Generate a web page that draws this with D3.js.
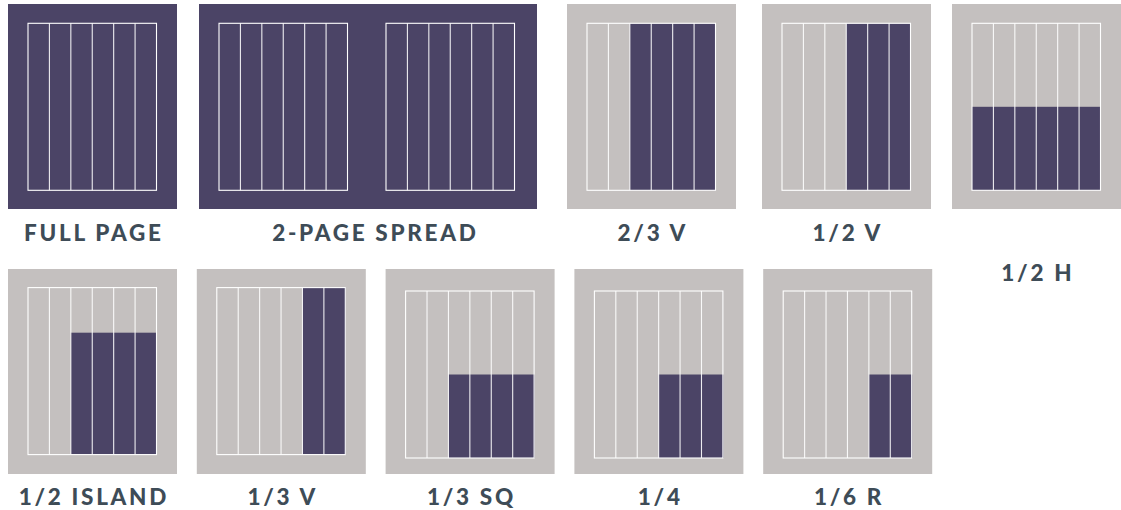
<!DOCTYPE html>
<html>
<head>
<meta charset="utf-8">
<script src="https://cdn.jsdelivr.net/npm/d3@7"></script>
<style>
  html, body { margin: 0; padding: 0; background: #ffffff; }
  svg { display: block; }
</style>
</head>
<body>
<svg id="chart" width="1121" height="510"></svg>
<script>
// ---- data ----
const categories   = ["FULL PAGE", "2-PAGE SPREAD", "2/3 V", "1/2 V", "1/2 H",
                      "1/2 ISLAND", "1/3 V", "1/3 SQ", "1/4", "1/6 R"];
const pageCount    = [1, 2, 1, 1, 1, 1, 1, 1, 1, 1];
const fullBleed    = [true, true, false, false, false, false, false, false, false, false];
const fillColStart = [0, 0, 2, 3, 0, 2, 4, 2, 3, 4];      // first filled column (of 6)
const fillHeight   = [1, 1, 1, 1, 0.5, 0.73, 1, 0.5, 0.5, 0.5]; // filled share of height, from bottom
const columnCount  = 6;

// ---- layout ----
const rowOf   = [0, 0, 0, 0, 0, 1, 1, 1, 1, 1];
const row1X   = [8, 199, 567, 762, 952];
const row2X   = d3.scaleLinear().domain([0, 1]).range([8, 196.8]); // regular spacing in row 2
const panelW  = 169, panelH = 205, pageGap = 167;
const innerDX = 20, innerW = 128.5;
const rowY    = [4, 269];
const innerDY = [19.3, 18.6, 18.6, 22, 22, 22];
const labelY  = [240.8, 505.3];

const colors = { purple: "#4b4466", gray: "#c4c0bf", line: "#ffffff", text: "#3e4c57" };

const svg = d3.select("#chart");

categories.forEach((name, i) => {
  const r = rowOf[i];
  const idxInRow = r === 0 ? i : i - 5;
  const x0 = r === 0 ? row1X[idxInRow] : row2X(idxInRow);
  const y0 = rowY[r];
  const w = panelW * pageCount[i];
  const g = svg.append("g");

  g.append("rect")
    .attr("x", x0).attr("y", y0).attr("width", w).attr("height", panelH)
    .attr("fill", fullBleed[i] ? colors.purple : colors.gray);

  const iy0 = y0 + (r === 0 ? 19.3 : innerDY[idxInRow + 1]);
  const innerH = 167;
  const yScale = d3.scaleLinear().domain([0, 1]).range([iy0 + innerH, iy0]);

  for (let p = 0; p < pageCount[i]; p++) {
    const ix0 = x0 + innerDX + p * pageGap;
    const xScale = d3.scaleLinear().domain([0, columnCount]).range([ix0, ix0 + innerW]);

    if (!fullBleed[i]) {
      g.append("rect")
        .attr("x", xScale(fillColStart[i]))
        .attr("y", yScale(fillHeight[i]))
        .attr("width", xScale(columnCount) - xScale(fillColStart[i]) + 0.5)
        .attr("height", yScale(0) - yScale(fillHeight[i]))
        .attr("fill", colors.purple);
    }

    // column dividers
    g.selectAll(null)
      .data(d3.range(1, columnCount))
      .join("line")
      .attr("x1", d => xScale(d)).attr("x2", d => xScale(d))
      .attr("y1", yScale(1)).attr("y2", yScale(0))
      .attr("stroke", colors.line).attr("stroke-width", 1.1).attr("stroke-opacity", 0.9);

    // frame
    g.append("rect")
      .attr("x", xScale(0)).attr("y", yScale(1))
      .attr("width", xScale(columnCount) - xScale(0))
      .attr("height", yScale(0) - yScale(1))
      .attr("fill", "none")
      .attr("stroke", colors.line).attr("stroke-width", 1.1);
  }

  let lx = x0 + w / 2 + 1.35;
  if (i === 1) lx += 6;
  const ly = (i === 4) ? labelY[0] + 40 : labelY[r];
  g.append("text")
    .attr("x", lx).attr("y", ly)
    .attr("text-anchor", "middle")
    .attr("font-family", "Lato, 'DejaVu Sans', sans-serif")
    .attr("font-weight", 900)
    .attr("font-size", 22.5)
    .attr("letter-spacing", "2.7px")
    .attr("fill", colors.text)
    .text(name);
});
</script>
</body>
</html>
